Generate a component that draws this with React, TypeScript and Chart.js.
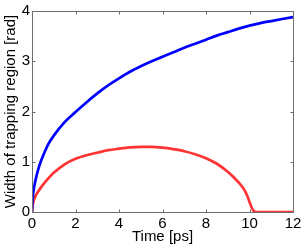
import React, { useEffect, useRef } from "react";
import { Chart, registerables } from "chart.js";

Chart.register(...registerables);

const xTicks = [0, 2, 4, 6, 8, 10, 12];
const yTicks = [0, 1, 2, 3, 4];

const timeBlue = [0, 0.02, 0.05, 0.1, 0.2, 0.3, 0.4, 0.5, 0.75, 1, 1.5, 2, 2.5, 3, 3.5, 4, 4.5, 5, 5.5, 6, 6.5, 7, 7.5, 8, 8.5, 9, 9.5, 10, 10.5, 11, 11.5, 12];
const widthBlue = [0, 0.22, 0.36, 0.5, 0.71, 0.87, 1.0, 1.11, 1.35, 1.52, 1.79, 1.99, 2.18, 2.36, 2.52, 2.66, 2.79, 2.9, 3.0, 3.09, 3.18, 3.27, 3.35, 3.43, 3.51, 3.58, 3.65, 3.71, 3.76, 3.8, 3.84, 3.88];

const timeRed = [0, 0.02, 0.05, 0.1, 0.2, 0.3, 0.4, 0.5, 0.75, 1, 1.5, 2, 2.5, 3, 3.5, 4, 4.5, 5, 5.5, 6, 6.5, 7, 7.5, 8, 8.5, 9, 9.25, 9.5, 9.75, 9.9, 10, 10.1, 10.2, 10.3, 10.5, 11, 12];
const widthRed = [0, 0.1, 0.17, 0.25, 0.35, 0.42, 0.48, 0.54, 0.67, 0.78, 0.95, 1.06, 1.13, 1.18, 1.23, 1.26, 1.285, 1.295, 1.295, 1.28, 1.25, 1.21, 1.15, 1.07, 0.96, 0.8, 0.7, 0.59, 0.45, 0.32, 0.2, 0.09, 0.02, 0, 0, 0, 0];

const FONT = "'Liberation Sans', Arial, Helvetica, sans-serif";
const FRAME = "#6e6e6e";

const framePlugin = {
  id: "frame",
  afterDraw(chart: any) {
    const { ctx, chartArea } = chart;
    const { left, right, top, bottom } = chartArea;
    const xs = chart.scales.x;
    const ys = chart.scales.y;
    const L = Math.round(left) + 0.5;
    const R = Math.round(right) + 0.5;
    const T = Math.round(top) + 0.5;
    const B = Math.round(bottom) + 0.5;
    ctx.save();
    ctx.strokeStyle = FRAME;
    ctx.lineWidth = 1;
    ctx.beginPath();
    ctx.rect(L, T, R - L, B - T);
    const len = 3;
    for (const v of xTicks) {
      const px = Math.round(xs.getPixelForValue(v)) + 0.5;
      ctx.moveTo(px, B);
      ctx.lineTo(px, B - len);
      ctx.moveTo(px, T);
      ctx.lineTo(px, T + len);
    }
    for (const v of yTicks) {
      const py = Math.round(ys.getPixelForValue(v)) + 0.5;
      ctx.moveTo(L, py);
      ctx.lineTo(L + len, py);
      ctx.moveTo(R, py);
      ctx.lineTo(R - len, py);
    }
    ctx.stroke();
    ctx.restore();
  },
};

export default function App() {
  const ref = useRef<HTMLCanvasElement>(null);
  useEffect(() => {
    if (!ref.current) return;
    const chart = new Chart(ref.current, {
      type: "line",
      data: {
        datasets: [
          {
            data: timeBlue.map((t, i) => ({ x: t, y: widthBlue[i] })),
            borderColor: "#0000ff",
            borderWidth: 2.7,
            pointRadius: 0,
            cubicInterpolationMode: "monotone",
          },
          {
            data: timeRed.map((t, i) => ({ x: t, y: widthRed[i] })),
            borderColor: "#ff3333",
            borderWidth: 2.7,
            pointRadius: 0,
            cubicInterpolationMode: "monotone",
          },
        ],
      },
      options: {
        animation: false,
        responsive: false,
        devicePixelRatio: 1,
        layout: { padding: { left: 0, top: 11, right: 12, bottom: 0 } },
        plugins: { legend: { display: false }, tooltip: { enabled: false } },
        scales: {
          x: {
            type: "linear",
            min: 0,
            max: 12,
            afterFit: (s: any) => { s.height = 34; },
            afterBuildTicks: (s: any) => { s.ticks = xTicks.map((v) => ({ value: v })); },
            grid: { display: false, drawTicks: false },
            border: { display: false },
            ticks: { color: "#000", font: { family: FONT, size: 15 }, padding: 3, maxRotation: 0 },
            title: { display: true, text: "Time [ps]", color: "#000", font: { family: FONT, size: 15 }, padding: { top: 0, bottom: 0 } },
          },
          y: {
            type: "linear",
            min: 0,
            max: 4,
            afterFit: (s: any) => { s.width = 32; },
            afterBuildTicks: (s: any) => { s.ticks = yTicks.map((v) => ({ value: v })); },
            grid: { display: false, drawTicks: false },
            border: { display: false },
            ticks: { color: "#000", font: { family: FONT, size: 15 }, padding: 2 },
            title: { display: true, text: "Width of trapping region [rad]", color: "#000", font: { family: FONT, size: 15 }, padding: { top: 2, bottom: 0 } },
          },
        },
      },
      plugins: [framePlugin],
    } as any);
    return () => chart.destroy();
  }, []);
  return (
    <div style={{ position: "fixed", left: 0, top: 0, width: 305, height: 246, background: "#fff" }}>
      <canvas ref={ref} width={305} height={246} style={{ display: "block" }} />
    </div>
  );
}
